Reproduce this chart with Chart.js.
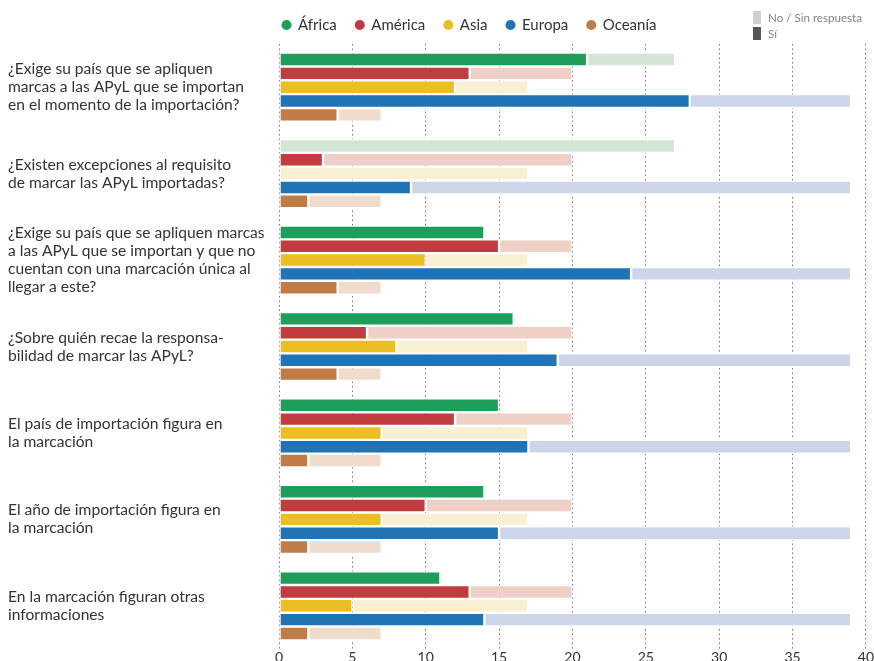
<!DOCTYPE html>
<html>
<head>
<meta charset="utf-8">
<script src="https://cdn.jsdelivr.net/npm/chart.js@4"></script>
<style>
html,body{margin:0;padding:0;background:#fff;}
#wrap{position:relative;width:874px;height:661px;}
</style>
</head>
<body>
<div id="wrap"><canvas id="c" width="874" height="661"></canvas></div>
<script>
const categories = [
  ["¿Exige su país que se apliquen", "marcas a las APyL que se importan", "en el momento de la importación?"],
  ["¿Existen excepciones al requisito", "de marcar las APyL importadas?"],
  ["¿Exige su país que se apliquen marcas", "a las APyL que se importan y que no", "cuentan con una marcación única al", "llegar a este?"],
  ["¿Sobre quién recae la responsa-", "bilidad de marcar las APyL?"],
  ["El país de importación figura en", "la marcación"],
  ["El año de importación figura en", "la marcación"],
  ["En la marcación figuran otras", "informaciones"]
];
const regions = ["África", "América", "Asia", "Europa", "Oceanía"];

const africaSi  = [21, 0, 14, 16, 15, 14, 11];
const americaSi = [13, 3, 15, 6, 12, 10, 13];
const asiaSi    = [12, 0, 10, 8, 7, 7, 5];
const europaSi  = [28, 9, 24, 19, 17, 15, 14];
const oceaniaSi = [4, 2, 4, 4, 2, 2, 2];

const africaNo  = [6, 27, null, null, null, null, null];
const americaNo = [7, 17, 5, 14, 8, 10, 7];
const asiaNo    = [5, 17, 7, 9, 10, 10, 12];
const europaNo  = [11, 30, 15, 20, 22, 24, 25];
const oceaniaNo = [3, 5, 3, 3, 5, 5, 5];

const xTicks = [0, 5, 10, 15, 20, 25, 30, 35, 40];

const siSeries = [africaSi, americaSi, asiaSi, europaSi, oceaniaSi];
const noSeries = [africaNo, americaNo, asiaNo, europaNo, oceaniaNo];
const darkColors  = ["#1f9e5a", "#c03c3f", "#ebbe24", "#2073b5", "#c07c44"];
const lightColors = ["#d3e6d6", "#efd0c6", "#f9efd3", "#cdd5e9", "#efdccd"];

const datasets = [];
regions.forEach((r, i) => {
  datasets.push({
    label: r, data: siSeries[i], stack: r,
    backgroundColor: darkColors[i], borderColor: "#ffffff",
    borderWidth: 1.2, borderSkipped: false,
    categoryPercentage: 0.8, barPercentage: 1.0
  });
  datasets.push({
    label: r + " (No / Sin respuesta)", data: noSeries[i], stack: r,
    backgroundColor: lightColors[i], borderColor: "#ffffff",
    borderWidth: 1.2, borderSkipped: false,
    categoryPercentage: 0.8, barPercentage: 1.0
  });
});

const FONT = "Lato, 'Open Sans', sans-serif";

const legendFix = {
  id: 'legendFix',
  afterInit(chart) {
    const l = chart.legend;
    if (l && !l._patched) {
      const f = l.fit.bind(l);
      l.fit = function () { f(); this.height = 44; };
      l._patched = true;
    }
  },
  afterLayout(chart) {
    const l = chart.legend;
    if (l) { l.left += 31; l.right += 31; l.top -= 1.5; l.bottom -= 1.5; }
  }
};

const miniLegend = {
  id: 'miniLegend',
  afterDraw(chart) {
    const ctx = chart.ctx;
    ctx.save();
    ctx.fillStyle = "#d0d0d0";
    ctx.fillRect(753, 11, 8, 13);
    ctx.fillStyle = "#555555";
    ctx.fillRect(753, 27, 8, 13);
    ctx.fillStyle = "#858585";
    ctx.font = "11.6px " + FONT;
    ctx.textBaseline = "middle";
    ctx.textAlign = "left";
    ctx.fillText("No / Sin respuesta", 768, 18);
    ctx.fillText("Sí", 768, 34);
    ctx.restore();
  }
};

new Chart(document.getElementById('c'), {
  type: 'bar',
  data: { labels: categories, datasets: datasets },
  plugins: [legendFix, miniLegend],
  options: {
    indexAxis: 'y',
    responsive: false,
    animation: false,
    layout: { padding: { left: 8, right: 5, top: 0, bottom: 0 } },
    plugins: {
      tooltip: { enabled: false },
      legend: {
        display: true,
        position: 'top',
        align: 'center',
        labels: {
          filter: (item) => item.datasetIndex % 2 === 0,
          usePointStyle: true,
          pointStyle: 'circle',
          boxWidth: 8,
          boxHeight: 8,
          padding: 19,
          color: "#333333",
          font: { family: FONT, size: 15 }
        }
      }
    },
    scales: {
      x: {
        stacked: true,
        min: 0, max: 40,
        afterBuildTicks: (s) => { s.ticks = xTicks.map(v => ({ value: v })); },
        afterFit: (s) => { s.height = 12; },
        grid: { display: true, color: "rgba(0,0,0,0.55)", lineWidth: 1, drawTicks: false },
        border: { display: false, dash: [1.5, 3] },
        ticks: { color: "#333333", font: { family: FONT, size: 14 }, padding: 0 }
      },
      y: {
        grid: { display: false },
        border: { display: false },
        afterFit: (s) => { s.width = 271; s.paddingTop = 0; s.paddingBottom = 0; },
        ticks: {
          crossAlign: 'far',
          color: "#333333",
          font: { family: FONT, size: 15.6, lineHeight: '18px' },
          padding: 0
        }
      }
    }
  }
});
</script>
</body>
</html>
